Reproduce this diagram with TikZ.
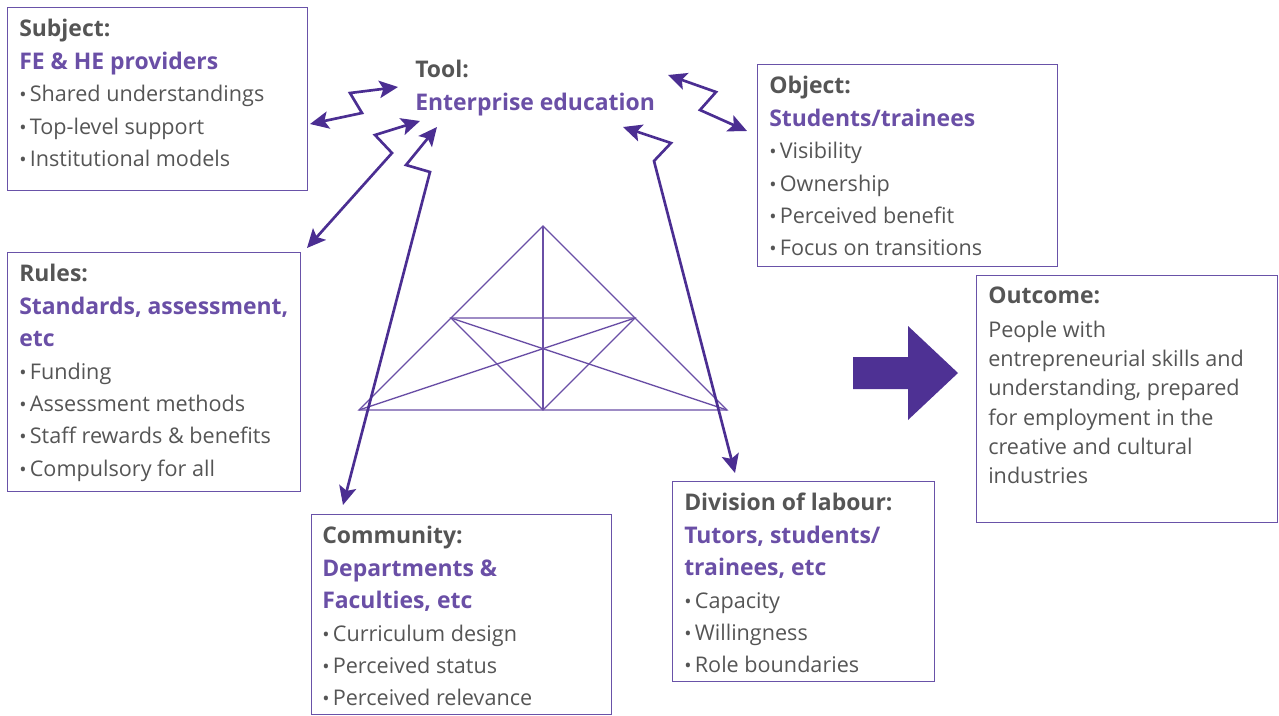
\documentclass[tikz,border=0pt]{standalone}
\usepackage{fontspec}
\setmainfont{Open Sans}
\usetikzlibrary{arrows.meta,positioning}
\definecolor{cinza}{HTML}{555555}
\definecolor{roxo}{HTML}{6A4FA6}
\definecolor{roxoescuro}{HTML}{4B2E92}
\definecolor{roxoborda}{HTML}{6952A8}
\newcommand{\bolinha}{\raisebox{0pt}{\fontsize{14.5}{14}\selectfont\textbullet}\hspace{2.5pt}}
\newcommand{\titulo}[1]{{\fontsize{17.2}{24}\selectfont\textbf{#1}}}
\newcommand{\destaque}[1]{\textcolor{roxo}{\titulo{#1}}}

\begin{document}
\begin{tikzpicture}[x=0.75pt,y=-0.75pt]
\tikzstyle{caixa}=[draw=roxoborda, line width=1.1pt, anchor=north west, inner sep=0pt]
\tikzstyle{texto}=[anchor=north west, align=left, inner sep=0pt, text=cinza, font=\fontsize{16.2}{24.3}\selectfont]
\tikzstyle{seta}=[draw=roxoescuro, line width=2pt, {Stealth[length=14pt,width=13pt,inset=3pt]}-{Stealth[length=14pt,width=13pt,inset=3pt]}]
\tikzstyle{linha}=[draw=roxo, line width=1pt]
\useasboundingbox (0,0) rectangle (1279,715);

% caixas
\node[caixa, minimum width=225pt, minimum height=137.25pt] (subject) at (7,7) {};
\node[caixa, minimum width=219.75pt, minimum height=179.25pt] (rules) at (7,252) {};
\node[caixa, minimum width=225pt, minimum height=151.5pt] (object) at (757,64) {};
\node[caixa, minimum width=225.75pt, minimum height=185.25pt] (outcome) at (976,275) {};
\node[caixa, minimum width=225pt, minimum height=150pt] (community) at (311,514) {};
\node[caixa, minimum width=196.5pt, minimum height=150pt] (division) at (672,481) {};

% textos
\node[texto] (subjecttxt) at ([shift={(12,7)}]subject.north west)
  {\strut\titulo{Subject:}\\ \destaque{FE \& HE providers}\\ \bolinha Shared understandings\\
   \bolinha Top-level support\\ \bolinha Institutional models};
\node[texto] (tool) at (415,55)
  {\strut\titulo{Tool:}\\ \destaque{Enterprise education}};
\node[texto] (objecttxt) at ([shift={(12,7)}]object.north west)
  {\strut\titulo{Object:}\\ \destaque{Students/trainees}\\ \bolinha Visibility\\ \bolinha Ownership\\
   \bolinha Perceived benefit\\ \bolinha Focus on transitions};
\node[texto] (rulestxt) at ([shift={(12,7)}]rules.north west)
  {\strut\titulo{Rules:}\\ \destaque{Standards, assessment,}\\ \destaque{etc}\\ \bolinha Funding\\
   \bolinha Assessment methods\\ \bolinha Staff rewards \& benefits\\ \bolinha Compulsory for all};
\node[texto, font=\fontsize{16.2}{22}\selectfont] (outcometxt) at ([shift={(12,8)}]outcome.north west)
  {\strut\titulo{Outcome:}\\[3pt] People with\\ entrepreneurial skills and\\ understanding, prepared\\
   for employment in the\\ creative and cultural\\ industries};
\node[texto] (communitytxt) at ([shift={(11,7)}]community.north west)
  {\strut\titulo{Community:}\\ \destaque{Departments \&}\\ \destaque{Faculties, etc}\\ \bolinha Curriculum design\\
   \bolinha Perceived status\\ \bolinha Perceived relevance};
\node[texto] (divisiontxt) at ([shift={(12,7)}]division.north west)
  {\strut\titulo{Division of labour:}\\ \destaque{Tutors, students/}\\ \destaque{trainees, etc}\\ \bolinha Capacity\\
   \bolinha Willingness\\ \bolinha Role boundaries};

% triangulo
\coordinate (topo) at (543,226);
\coordinate (be) at (359,410);
\coordinate (bd) at (727,410);
\coordinate (me) at (451,318);
\coordinate (md) at (635,318);
\coordinate (bm) at (543,410);
\draw[linha] (topo) -- (be) -- (bd) -- cycle;
\draw[linha] (topo) -- (bm);
\draw[linha] (me) -- (md) -- (bm) -- cycle;
\draw[linha] (be) -- (md);
\draw[linha] (bd) -- (me);

% setas
\coordinate (s1) at (310,124); \coordinate (t1) at (398,87);
\coordinate (s2) at (307,248); \coordinate (t2) at (420,121);
\coordinate (s3) at (343,505); \coordinate (t3) at (437,127);
\coordinate (s4) at (747,131); \coordinate (t4) at (668,75);
\coordinate (s5) at (735,473); \coordinate (t5) at (623,127);
\draw[seta] (s1) -- (362,113) -- (350,93) -- (t1);
\draw[seta] (s2) -- (392,153) -- (375,135) -- (t2);
\draw[seta] (s3) -- (430,172) -- (406,165) -- (t3);
\draw[seta] (s4) -- (700,110) -- (716,92) -- (t4);
\draw[seta] (s5) -- (654,161) -- (671,143) -- (t5);

% seta grande
\fill[roxoescuro!90!roxo] (853,357) -- (908,357) -- (908,326) -- (958,373) -- (908,420) -- (908,389) -- (853,389) -- cycle;
\end{tikzpicture}
\end{document}
